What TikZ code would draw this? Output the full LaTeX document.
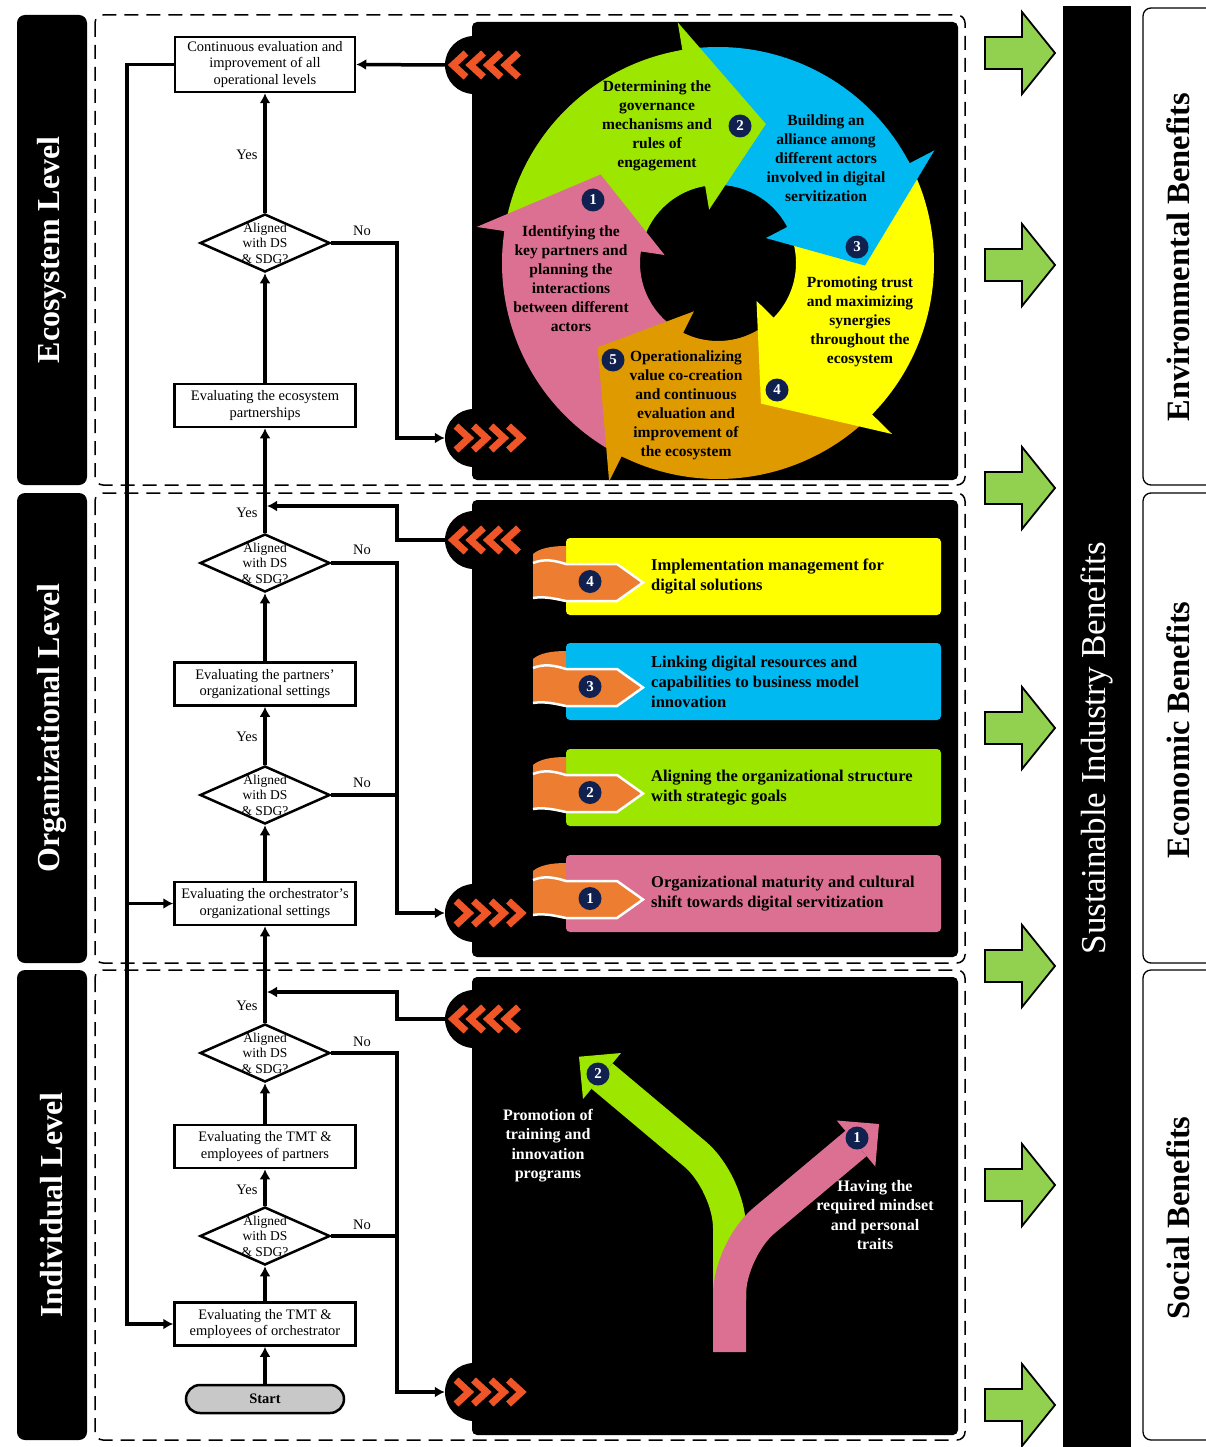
\documentclass[tikz,border=0pt]{standalone}
\usepackage{fontspec}
\setmainfont{Liberation Serif}
\usetikzlibrary{shapes.geometric,arrows.meta}

\definecolor{segpink}{HTML}{DB7093}
\definecolor{seggreen}{HTML}{9DE600}
\definecolor{segcyan}{HTML}{00B9F0}
\definecolor{segyellow}{HTML}{FFFF00}
\definecolor{segorange}{HTML}{DF9A00}
\definecolor{tabor}{HTML}{ED7D31}
\definecolor{chevred}{HTML}{F05528}
\definecolor{navy}{HTML}{10214F}
\definecolor{benegreen}{HTML}{92D050}
\definecolor{startgray}{HTML}{C8C8C8}

\tikzset{
  stepbox/.style={draw, line width=2.5pt, fill=white, align=center, inner sep=1pt,
    minimum width=181pt, minimum height=43pt, font=\fontsize{14.5}{16.5}\selectfont},
  ask/.style={draw, diamond, line width=2.5pt, fill=white, inner sep=0pt,
    minimum width=130pt, minimum height=58pt},
  asktext/.style={align=center, font=\fontsize{13.5}{15.5}\selectfont},
  flow/.style={line width=3.5pt, -{Latex[length=10pt,width=11pt]}},
  wire/.style={line width=3.5pt},
  lbl/.style={font=\fontsize{14.5}{16}\selectfont},
  bump/.style={circle, fill=black, minimum size=58pt, inner sep=0pt},
  chev/.style={chevred, line width=7pt},
  levelbox/.style={fill=black, rounded corners=8pt},
  leveltext/.style={rotate=90, text=white, font=\bfseries\fontsize{32}{36}\selectfont},
  zone/.style={dash pattern=on 14pt off 8pt, line width=1.5pt, rounded corners=8pt},
  num/.style={circle, fill=navy, text=white, inner sep=0pt, minimum size=23pt,
    font=\bfseries\fontsize{15}{15}\selectfont},
  segtext/.style={align=center, font=\bfseries\fontsize{15.5}{19}\selectfont},
  cardtext/.style={align=left, anchor=west, inner sep=0pt, font=\bfseries\fontsize{16.5}{20}\selectfont},
  pathtext/.style={align=center, text=white, font=\bfseries\fontsize{16}{19.5}\selectfont},
  benefit/.style={rotate=90, font=\bfseries\fontsize{32.5}{36}\selectfont},
}

\begin{document}
\begin{tikzpicture}[x=1pt,y=-1pt]
\useasboundingbox (0,0) rectangle (1205,1447);

% frame, levels and panels
\draw[double, line width=0.5pt, double distance=1.5pt] (7,8) rectangle (976,1443);
\foreach \t/\b in {15/485,493/963,970/1440} {
    \draw[zone] (95,\t) rectangle (965,\b);
    \fill[levelbox] (17,\t) rectangle (87,\b);
}
\node[leveltext] (lvEco) at (52,250) {Ecosystem Level};
\node[leveltext] (lvOrg) at (52,728) {Organizational Level};
\node[leveltext] (lvInd) at (52,1205) {Individual Level};

\foreach \t/\b in {22/480,500/957,977/1435}
    \fill[rounded corners=5pt] (472,\t) rectangle (958,\b);

\node[bump] (eOut) at (474,65) {};
\node[bump] (eIn) at (474,438) {};
\node[bump] (oOut) at (474,540) {};
\node[bump] (oIn) at (474,913) {};
\node[bump] (iOut) at (474,1019) {};
\node[bump] (iIn) at (474,1392) {};
\foreach \y in {65,540,1019}
    \foreach \k in {0,...,3}
        \draw[chev] (466+17.5*\k,\y-12) -- (453+17.5*\k,\y) -- (466+17.5*\k,\y+12);
\foreach \y in {438,913,1392}
    \foreach \k in {0,...,3}
        \draw[chev] (456+17.5*\k,\y-12) -- (469+17.5*\k,\y) -- (456+17.5*\k,\y+12);

% flowchart
\node[stepbox, minimum width=180pt, minimum height=55pt] (cont) at (265,64.5)
    {Continuous evaluation and\\improvement of all\\operational levels};
\node[ask, label={[asktext]center:{Aligned\\with DS\\\& SDG?}}] (dEco) at (265,243) {};
\node[stepbox] (boxEco) at (265,405.5) {Evaluating the ecosystem\\partnerships};
\node[ask, label={[asktext]center:{Aligned\\with DS\\\& SDG?}}] (dOrg2) at (265,563) {};
\node[stepbox] (boxOrgP) at (265,684) {Evaluating the partners'\\organizational settings};
\node[ask, label={[asktext]center:{Aligned\\with DS\\\& SDG?}}] (dOrg1) at (265,795) {};
\node[stepbox] (boxOrgO) at (265,903.5) {Evaluating the orchestrator's\\organizational settings};
\node[ask, label={[asktext]center:{Aligned\\with DS\\\& SDG?}}] (dInd2) at (265,1053) {};
\node[stepbox] (boxIndP) at (265,1146.5) {Evaluating the TMT \&\\employees of partners};
\node[ask, label={[asktext]center:{Aligned\\with DS\\\& SDG?}}] (dInd1) at (265,1236) {};
\node[stepbox] (boxIndO) at (265,1324) {Evaluating the TMT \&\\employees of orchestrator};
\node[draw, line width=2.5pt, fill=startgray, rounded corners=14pt, minimum width=158pt,
    minimum height=28pt, font=\bfseries\fontsize{14.5}{16}\selectfont] (start) at (265,1399) {Start};

\coordinate (nx) at (397,0);
\coordinate (lx) at (127,0);
\coordinate (jOrg) at (267,506);
\coordinate (jInd) at (267,992);

\foreach \a/\b in {start/boxIndO, boxIndO/dInd1, dInd1/boxIndP, boxIndP/dInd2, dInd2/boxOrgO,
    boxOrgO/dOrg1, dOrg1/boxOrgP, boxOrgP/dOrg2, dOrg2/boxEco, boxEco/dEco, dEco/cont}
    \draw[flow] (\a.north) -- (\b.south);
\foreach \d/\c in {dEco/eIn, dOrg2/oIn, dInd2/iIn}
    \draw[flow] (\d.east) -- (\d.east -| nx) |- (\c.west);
\foreach \d in {dOrg1, dInd1}
    \draw[wire] (\d.east) -- (\d.east -| nx);
\draw[flow] (eOut.west) -- (cont.east);
\draw[flow] (oOut.west) -| (nx |- jOrg) -- (jOrg);
\draw[flow] (iOut.west) -| (nx |- jInd) -- (jInd);
\draw[flow] (cont.west) -- (cont.west -| lx) |- (boxIndO.west);
\draw[flow] (lx |- boxOrgO.west) -- (boxOrgO.west);

\foreach \y [count=\i] in {155,513,737,1006,1190}
    \node[lbl] (yes\i) at (247,\y) {Yes};
\foreach \y [count=\i] in {231,550,783,1042,1225}
    \node[lbl] (no\i) at (362,\y) {No};

% ecosystem cycle
\begin{scope}[shift={(718,263)}]
\foreach \s/\b/\c in {243.5/171.5/segpink, 171.5/99.5/seggreen, 99.5/27.5/segcyan,
    27.5/-44.5/segyellow, -44.5/-116.5/segorange}
    \fill[\c] (\s:78pt) -- (\s:216pt) arc[start angle=\s, end angle=\b, radius=216pt]
        -- (\b:78pt) arc[start angle=\b, end angle=\s, radius=78pt] -- cycle;
\foreach \b/\c in {171.5/segpink, 99.5/seggreen, 27.5/segcyan, -44.5/segyellow, -116.5/segorange} {
    \fill[\c] ({\b+0.8}:78pt) -- ({\b+0.8}:216pt) -- ({\b-3}:216pt) -- ({\b-3}:78pt) -- cycle;
    \fill[\c] (\b:54pt) -- (\b:244pt) -- ({\b-28.5}:147pt) -- cycle;
}
\end{scope}

\node[num] (s1) at (593,200) {1};
\node[num] (s2) at (740,126) {2};
\node[num] (s3) at (857,247) {3};
\node[num] (s4) at (777,390) {4};
\node[num] (s5) at (613,360) {5};
\node[segtext] (t1) at (571,279) {Identifying the\\key partners and\\planning the\\interactions\\between different\\actors};
\node[segtext] (t2) at (657,125.5) {Determining the\\governance\\mechanisms and\\rules of\\engagement};
\node[segtext] (t3) at (826,158.5) {Building an\\alliance among\\different actors\\involved in digital\\servitization};
\node[segtext] (t4) at (860,321.5) {Promoting trust\\and maximizing\\synergies\\throughout the\\ecosystem};
\node[segtext] (t5) at (686,405.5) {Operationalizing\\value co-creation\\and continuous\\evaluation and\\improvement of\\the ecosystem};

% organizational cards
\foreach \yt/\c/\n in {538/segyellow/4, 643/segcyan/3, 749/seggreen/2, 855/segpink/1} {
    \fill[\c, rounded corners=4pt] (566,\yt) rectangle (941,\yt+77);
    \fill[tabor] (533,\yt+16) .. controls (540,\yt+10) and (552,\yt+8) .. (566,\yt+8)
        -- (566,\yt+30) -- (533,\yt+30) -- cycle;
    \fill[tabor] (533,\yt+25) .. controls (545,\yt+20) and (556,\yt+23) .. (566,\yt+26)
        -- (617,\yt+26) -- (643,\yt+44.5) -- (617,\yt+63) -- (566,\yt+63)
        .. controls (556,\yt+61) and (545,\yt+58) .. (533,\yt+60) -- cycle;
    \draw[white, line width=2.5pt] (533,\yt+25) .. controls (545,\yt+20) and (556,\yt+23) .. (566,\yt+26)
        -- (617,\yt+26) -- (643,\yt+44.5) -- (617,\yt+63) -- (566,\yt+63)
        .. controls (556,\yt+61) and (545,\yt+58) .. (533,\yt+60);
    \node[num] (c\n) at (590,\yt+43.5) {\n};
}
\node[cardtext] (k4) at (651,577) {Implementation management for\\digital solutions};
\node[cardtext] (k3) at (651,682) {Linking digital resources and\\capabilities to business model\\innovation};
\node[cardtext] (k2) at (651,788) {Aligning the organizational structure\\with strategic goals};
\node[cardtext] (k1) at (651,894) {Organizational maturity and cultural\\shift towards digital servitization};

% individual paths
\draw[seggreen, line width=33pt, rounded corners=45pt] (729.5,1300) -- (729.5,1183) -- (602,1076);
\fill[seggreen] (621,1053) -- (579,1056.7) -- (583,1099) -- cycle;
\draw[segpink, line width=33pt, rounded corners=45pt] (729.5,1352) -- (729.5,1249.5) -- (856,1143.5);
\fill[segpink] (875.3,1166.5) -- (879,1124) -- (836.7,1120.5) -- cycle;
\node[num] (p2) at (598,1074) {2};
\node[num] (p1) at (857,1138) {1};
\node[pathtext] (pt2) at (548,1145.5) {Promotion of\\training and\\innovation\\programs};
\node[pathtext] (pt1) at (875,1215) {Having the\\required mindset\\and personal\\traits};

% benefits
\foreach \y in {53,265,488,728,966,1185,1405}
    \filldraw[fill=benegreen, line width=1.8pt] (985,\y-16) -- (1022,\y-16) -- (1022,\y-41)
        -- (1055,\y) -- (1022,\y+41) -- (1022,\y+16) -- (985,\y+16) -- cycle;
\fill (1063,6) rectangle (1131,1450);
\node[rotate=90, text=white, font=\fontsize{35}{39}\selectfont] (sib) at (1097,748) {Sustainable Industry Benefits};
\foreach \t/\b in {8/485,493/963,970/1440}
    \draw[line width=1.3pt, rounded corners=8pt] (1143,\t) rectangle (1230,\b);
\node[benefit] (envB) at (1178,257) {Environmental Benefits};
\node[benefit] (ecoB) at (1178,730) {Economic Benefits};
\node[benefit] (socB) at (1178,1218) {Social Benefits};
\end{tikzpicture}
\end{document}
